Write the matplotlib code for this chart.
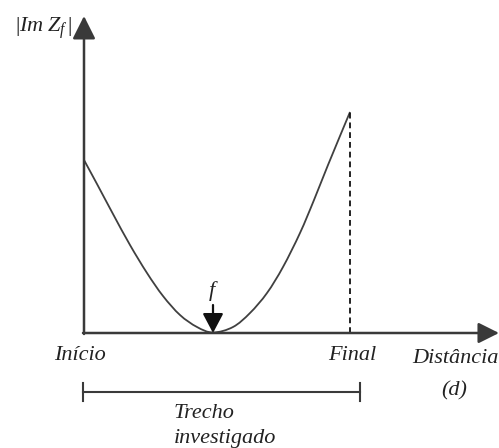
import matplotlib
matplotlib.use("Agg")
import matplotlib.pyplot as plt
from matplotlib.path import Path
from matplotlib.patches import PathPatch

plt.rcParams['mathtext.fontset'] = 'custom'
plt.rcParams['mathtext.rm'] = 'Liberation Serif'
plt.rcParams['mathtext.it'] = 'Liberation Serif:italic'

# Curve values (distance, |Im Zf|), arbitrary units
distance = [0, 13, 29, 46, 63, 79, 96, 113, 129, 149, 166, 183, 199, 216, 230, 244, 266]
im_zf = [173, 149, 119, 88, 60, 37, 18, 6, 0.5, 6, 20, 40, 66, 100, 133, 168, 221]
fault_d = 129
final_d = 266
final_v = 221

axis_col = '#3a3a3a'
curve_col = '#404040'
font = dict(family='Liberation Serif', style='italic', fontsize=16, color='#222222')

fig = plt.figure(figsize=(4.99, 4.48), dpi=100)
ax = fig.add_axes([0, 0, 1, 1])
ax.set_xlim(-84, 415)
ax.set_ylim(-115, 333)
ax.axis('off')

# axes with arrows
ax.annotate('', xy=(415, 0), xytext=(-1, 0),
            arrowprops=dict(arrowstyle='-|>,head_length=0.9,head_width=0.45', lw=1.8,
                            color=axis_col, shrinkA=0, shrinkB=0, mutation_scale=14))
ax.annotate('', xy=(0, 317), xytext=(0, -1),
            arrowprops=dict(arrowstyle='-|>,head_length=1.0,head_width=0.5', lw=1.8,
                            color=axis_col, shrinkA=0, shrinkB=0, mutation_scale=14))

# smooth curve through the read points (Catmull-Rom drawn as cubic Bezier)
pts = list(zip(distance, im_zf))
verts = [pts[0]]
codes = [Path.MOVETO]
n = len(pts)
for i in range(n - 1):
    p0 = pts[i - 1] if i > 0 else pts[i]
    p1 = pts[i]
    p2 = pts[i + 1]
    p3 = pts[i + 2] if i + 2 < n else pts[i + 1]
    c1 = (p1[0] + (p2[0] - p0[0]) / 6, p1[1] + (p2[1] - p0[1]) / 6)
    c2 = (p2[0] - (p3[0] - p1[0]) / 6, p2[1] - (p3[1] - p1[1]) / 6)
    verts += [c1, c2, p2]
    codes += [Path.CURVE4] * 3
ax.add_patch(PathPatch(Path(verts, codes), fill=False, edgecolor=curve_col, lw=1.3))

# dashed line at the end
ax.plot([final_d, final_d], [0, final_v], color='#111111', lw=1.3, ls=(0, (3.2, 2.2)))

# fault arrow
ax.annotate('', xy=(fault_d, 0), xytext=(fault_d, 28),
            arrowprops=dict(arrowstyle='-|>,head_length=0.85,head_width=0.45', lw=1.6,
                            color='#111111', shrinkA=0, shrinkB=0, mutation_scale=14))
ax.text(fault_d - 1, 42, 'f', ha='center', va='center', **font)

# labels
ax.text(-4, -22, 'Início', ha='center', va='center', **font)
ax.text(268, -22, 'Final', ha='center', va='center', **font)
ax.text(371, -25, 'Distância', ha='center', va='center', **font)
ax.text(370, -58, '(d)', ha='center', va='center', **font)
ax.text(-40, 305, r'$|Im\;Z_{f}\,|$', ha='center', va='center', fontsize=16, color='#222222')

# investigated span bar
ax.plot([-1, 276], [-59, -59], color=axis_col, lw=1.5)
ax.plot([-1, -1], [-50, -68], color=axis_col, lw=1.5)
ax.plot([276, 276], [-50, -68], color=axis_col, lw=1.5)
ax.text(120, -80, 'Trecho', ha='center', va='center', **font)
ax.text(141, -105, 'investigado', ha='center', va='center', **font)

fig.savefig('out.png', dpi=100, facecolor='white')
